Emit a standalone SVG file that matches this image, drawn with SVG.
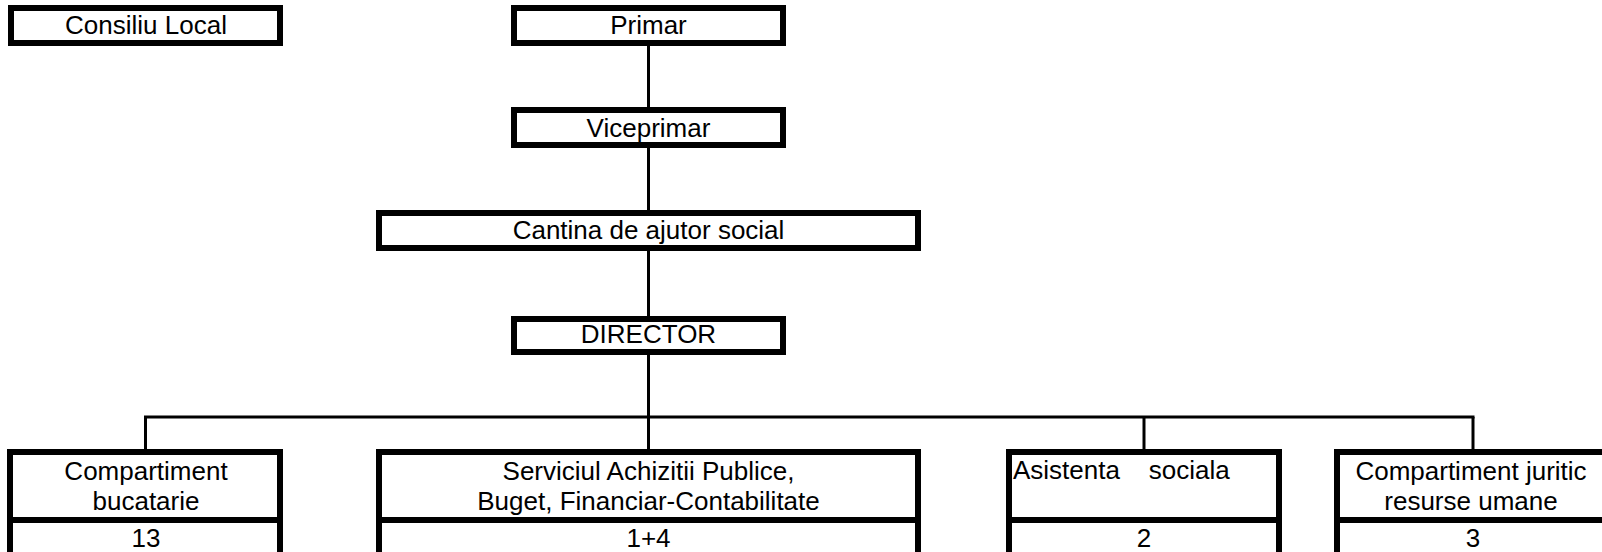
<svg xmlns="http://www.w3.org/2000/svg" width="1602" height="552" viewBox="0 0 1602 552">
<style>
.box{fill:#fff;stroke:#000;stroke-width:6}
.div{stroke:#000;stroke-width:6}
.con{stroke:#000;stroke-width:3;fill:none}
text{font-family:"Liberation Sans",Arial,sans-serif;font-size:26px;fill:#000}
.c{text-anchor:middle}
</style>
<rect width="1602" height="552" fill="#fff"/>
<g id="connectors">
<line class="con" x1="648.5" y1="46" x2="648.5" y2="108"/>
<line class="con" x1="648.5" y1="148" x2="648.5" y2="210"/>
<line class="con" x1="648.5" y1="251" x2="648.5" y2="316"/>
<line class="con" x1="648.5" y1="355" x2="648.5" y2="417"/>
<line class="con" x1="144" y1="417" x2="1474.5" y2="417"/>
<line class="con" x1="145.5" y1="417" x2="145.5" y2="450"/>
<line class="con" x1="648.5" y1="417" x2="648.5" y2="450"/>
<line class="con" x1="1144" y1="417" x2="1144" y2="450"/>
<line class="con" x1="1473" y1="417" x2="1473" y2="450"/>
</g>
<g id="consiliu">
<rect class="box" x="11" y="8" width="269" height="35"/>
<text class="c" x="146" y="34">Consiliu Local</text>
</g>
<g id="primar">
<rect class="box" x="514" y="8" width="269" height="35"/>
<text class="c" x="648.5" y="34">Primar</text>
</g>
<g id="viceprimar">
<rect class="box" x="514" y="110" width="269" height="35"/>
<text class="c" x="648.5" y="137">Viceprimar</text>
</g>
<g id="cantina">
<rect class="box" x="379" y="213" width="539" height="35"/>
<text class="c" x="648.5" y="239">Cantina de ajutor social</text>
</g>
<g id="director">
<rect class="box" x="514" y="319" width="269" height="33"/>
<text class="c" x="648.5" y="343">DIRECTOR</text>
</g>
<g id="bucatarie">
<rect class="box" x="10" y="452" width="270" height="110"/>
<line class="div" x1="7" y1="520" x2="283" y2="520"/>
<text class="c" x="146" y="480">Compartiment</text>
<text class="c" x="146" y="510">bucatarie</text>
<text class="c" x="146" y="547">13</text>
</g>
<g id="serviciul">
<rect class="box" x="379" y="452" width="539" height="110"/>
<line class="div" x1="376" y1="520" x2="921" y2="520"/>
<text class="c" x="648.5" y="480">Serviciul Achizitii Publice,</text>
<text class="c" x="648.5" y="510">Buget, Financiar-Contabilitate</text>
<text class="c" x="648.5" y="547">1+4</text>
</g>
<g id="asistenta">
<rect class="box" x="1009" y="452" width="270" height="110"/>
<line class="div" x1="1006" y1="520" x2="1282" y2="520"/>
<text x="1013" y="479" style="white-space:pre">Asistenta    sociala</text>
<text class="c" x="1144" y="547">2</text>
</g>
<g id="juritic">
<rect class="box" x="1337" y="452" width="272" height="110"/>
<line class="div" x1="1334" y1="520" x2="1612" y2="520"/>
<text class="c" x="1471" y="480">Compartiment juritic</text>
<text class="c" x="1471" y="510">resurse umane</text>
<text class="c" x="1473" y="547">3</text>
</g>
</svg>
